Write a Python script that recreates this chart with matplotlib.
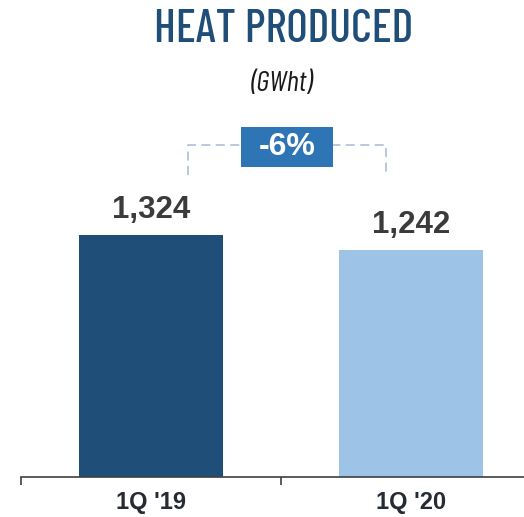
import matplotlib
matplotlib.use("Agg")
import matplotlib.pyplot as plt
from matplotlib.patches import Rectangle

categories = ["1Q '19", "1Q '20"]
values = [1324, 1242]
value_labels = ["1,324", "1,242"]
change_label = "-6%"

colors = ["#1f4e79", "#9dc3e6"]
sans = ["Liberation Sans", "DejaVu Sans"]
cond = ["Barlow Condensed", "DejaVu Sans"]

fig = plt.figure(figsize=(5.24, 5.17), dpi=100)
ax = fig.add_axes([21 / 524, 1 - 477 / 517, 520 / 524, 365.6 / 517])

x = range(len(categories))
ax.bar(x, values, width=0.555, color=colors, zorder=2)
ax.set_xlim(-0.5, 1.5)
ax.set_ylim(0, 2000)

for xi, v, lab in zip(x, values, value_labels):
    ax.text(xi, v + 55, lab, ha="center", va="bottom", fontsize=22.5,
            fontweight="bold", color="#3b3b3b", family=sans)

# bracket showing change
y_top = 1816
y_bot = 1652
x0, x1 = 0.142, 0.904
ax.plot([x0, x0, x1, x1], [y_bot, y_top, y_top, y_bot], color="#b4c4dc",
        lw=1.3, ls=(0, (5, 3)), zorder=1, clip_on=False)
ax.add_patch(Rectangle((0.346, 1696), 0.354, 219, fc="#2e75b6", ec="none",
                       zorder=3, clip_on=False))
ax.text(0.523, 1803, change_label, ha="center", va="center",
        fontsize=23, fontweight="bold", color="white", zorder=4, family=sans)

# axes styling
for s in ["top", "right", "left"]:
    ax.spines[s].set_visible(False)
ax.spines["bottom"].set_color("#404040")
ax.spines["bottom"].set_linewidth(1.2)
ax.set_yticks([])
ax.set_xticks([-0.5, 0.5, 1.5])
ax.set_xticklabels([])
ax.tick_params(axis="x", length=6, width=1.2, color="#404040", direction="out")
for xi, c in zip(x, categories):
    ax.text(xi, -75, c, ha="center", va="top", fontsize=17, fontweight="bold",
            color="#252a33", family=sans, clip_on=False)

fig.text(284 / 524, 1 - 30 / 517, "HEAT PRODUCED", ha="center", va="center",
         fontsize=33, fontweight=500, color="#1f4e79", family=cond)
fig.text(282 / 524, 1 - 84 / 517, "(GWht)", ha="center", va="center",
         fontsize=21, style="italic", color="#1a1a1a", family=cond)

fig.savefig("out.png", dpi=100)
